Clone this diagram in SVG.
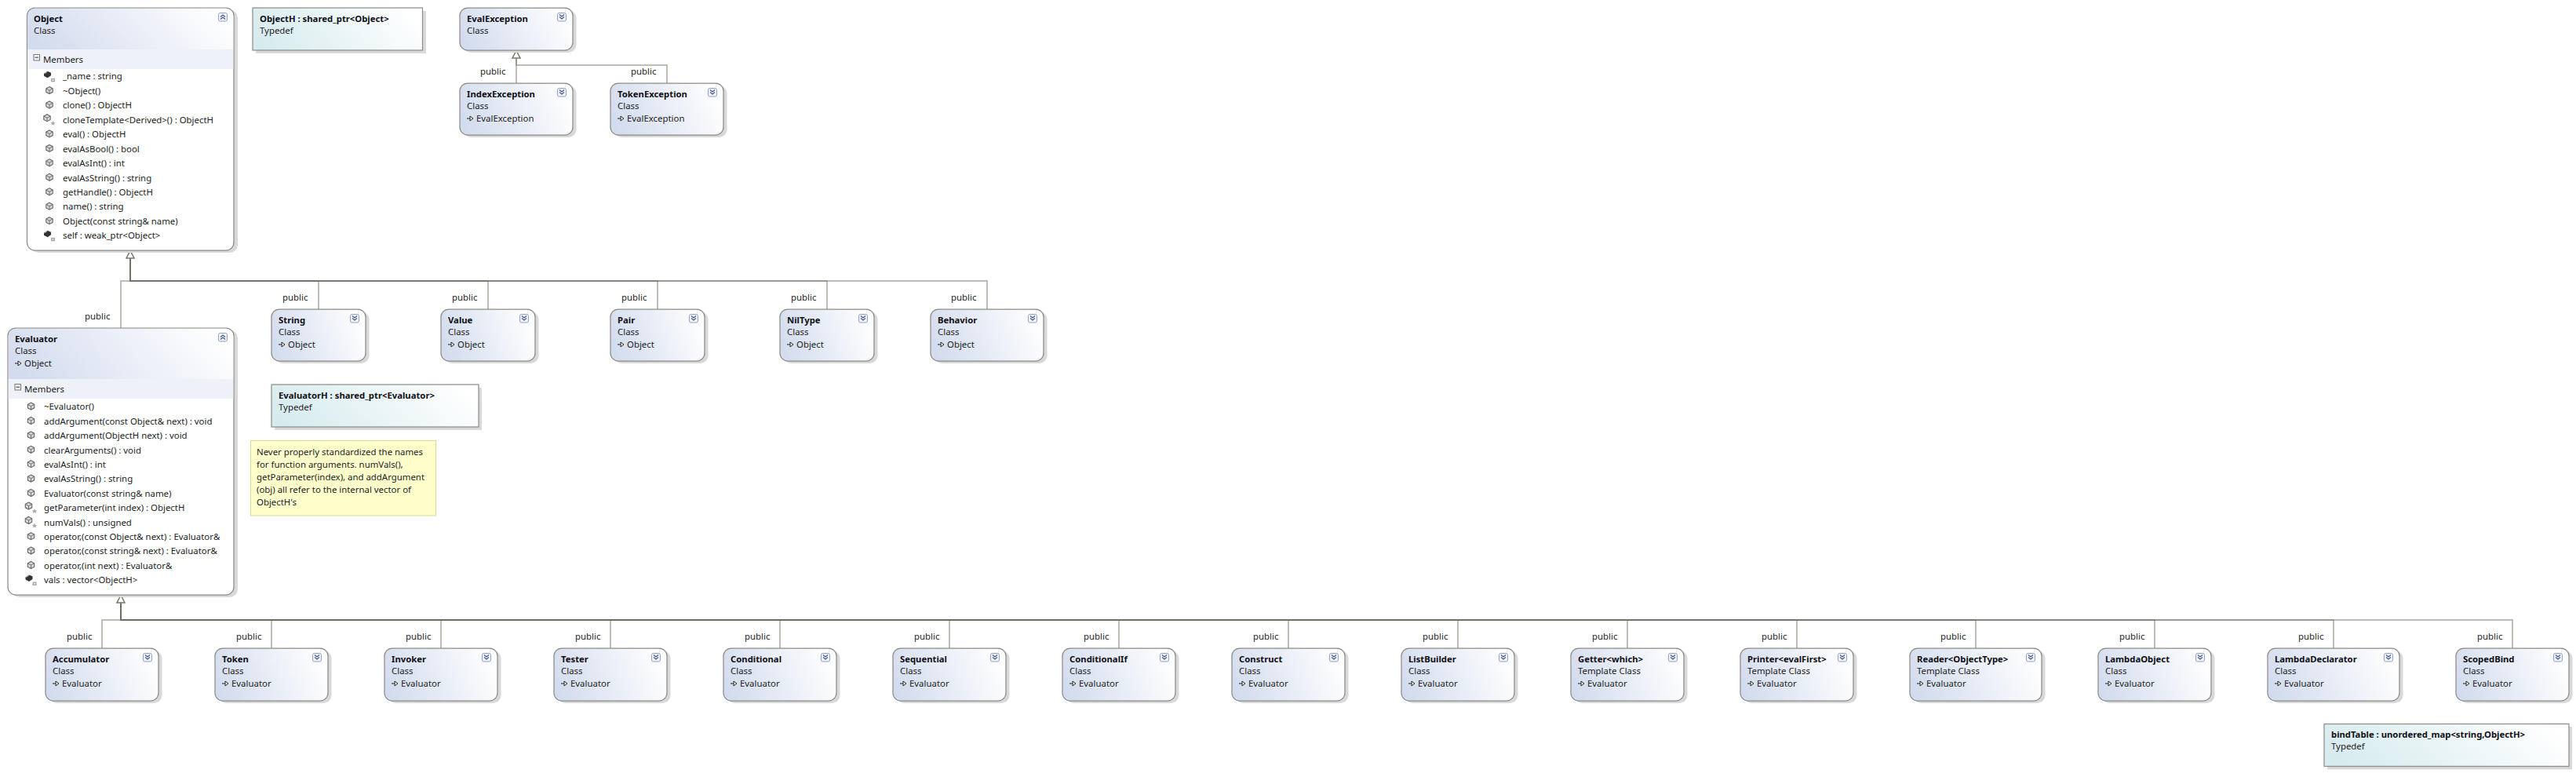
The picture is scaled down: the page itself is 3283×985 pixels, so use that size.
<svg xmlns="http://www.w3.org/2000/svg" width="3283" height="985" viewBox="0 0 3283 985">
<style>
text{font-family:"Noto Sans","Open Sans","Liberation Sans",sans-serif;font-size:11.4px;fill:#1c1c24}
.n{font-weight:700;font-size:11.3px;fill:#101018}
.sh{fill:#d9d9d9}
.b{fill:url(#cg);stroke:#8b8b85;stroke-width:1.25}
.o{fill:#fff;stroke:#8b8b85;stroke-width:1.25}
.td{fill:url(#tg);stroke:#8f8f8a;stroke-width:1.25}
.band{fill:#eef1f8}
.c{fill:none;stroke:#6f6f62;stroke-width:1.5;stroke-opacity:.6}
.a{fill:#fff;stroke:#77776c;stroke-width:1.5}
</style>
<defs>
<linearGradient id="cg" x1="0" y1=".6" x2="1" y2=".4"><stop offset="0" stop-color="#d3dcee"/><stop offset="1" stop-color="#fff"/></linearGradient>
<linearGradient id="tg" x1="0" y1=".6" x2="1" y2=".4"><stop offset="0" stop-color="#d6ebee"/><stop offset="1" stop-color="#fff"/></linearGradient>
<g id="btn"><rect x=".5" y=".5" width="11" height="10.5" rx="2" fill="#eef2fa" stroke="#8fa2c4"/></g>
<g id="dn"><use href="#btn"/><path d="M3 2.500 6 5 9 2.500M3 5.500 6 8 9 5.500" fill="none" stroke="#4a5a78" stroke-width="1.2"/></g>
<g id="up"><use href="#btn"/><path d="M3 5.500 6 3 9 5.500M3 8.500 6 6 9 8.500" fill="none" stroke="#4a5a78" stroke-width="1.2"/></g>
<g id="inh"><path d="M0 4H4" stroke="#222" stroke-width="1" fill="none"/><path d="M4 1 8 4 4 7Z" fill="#fff" stroke="#222" stroke-width="1"/></g>
<g id="hx"><path d="M0-4.500 4.200-2.200V2.200L0 4.500-4.200 2.200V-2.200Z" fill="#d8d8d8" stroke="#666" stroke-width="1.1"/><path d="M-4.200-2.200 0 0 4.200-2.200M0 0V4.500" fill="none" stroke="#666" stroke-width=".9"/></g>
<g id="m"><use href="#hx" y="-.7"/></g>
<g id="p"><use href="#hx" x="-3" y="-2.500"/><path d="M4.500 1 5.400 3.200 7.600 3.400 6 4.900 6.500 7 4.500 5.900 2.500 7 3 4.900 1.400 3.400 3.600 3.200Z" fill="#aaa"/></g>
<g id="f"><path d="M-7-3.500-2.500-6.500 2-4.500V-1L-2.500 2-7-.5Z" fill="#333"/><path d="M-6-3.700-2.700-5.800" stroke="#bbb" fill="none"/><rect x="2" y="2.500" width="5" height="4.500" fill="#aaa"/><rect x="3.500" y="4" width="2" height="1.500" fill="#eee"/></g>
<g id="mn"><rect x=".5" y=".5" width="7.500" height="7.500" fill="#f4f6fb" stroke="#777"/><path d="M2 4.200H6.500" stroke="#333"/></g>
</defs>
<rect width="3283" height="985" fill="#fff"/>

<g id="connectors">
<path class="c" d="M658 74V106"/>
<path class="c" d="M658 74V83H850V106"/>
<path class="c" d="M166 329V358H154V418"/>
<path class="c" d="M166 329V358H406V394"/>
<path class="c" d="M166 329V358H622V394"/>
<path class="c" d="M166 329V358H838V394"/>
<path class="c" d="M166 329V358H1054V394"/>
<path class="c" d="M166 329V358H1258V394"/>
<path class="c" d="M154 768V790H130V826"/>
<path class="c" d="M154 768V790H346V826"/>
<path class="c" d="M154 768V790H562V826"/>
<path class="c" d="M154 768V790H778V826"/>
<path class="c" d="M154 768V790H994V826"/>
<path class="c" d="M154 768V790H1210V826"/>
<path class="c" d="M154 768V790H1426V826"/>
<path class="c" d="M154 768V790H1642V826"/>
<path class="c" d="M154 768V790H1858V826"/>
<path class="c" d="M154 768V790H2074V826"/>
<path class="c" d="M154 768V790H2290V826"/>
<path class="c" d="M154 768V790H2518V826"/>
<path class="c" d="M154 768V790H2746V826"/>
<path class="c" d="M154 768V790H2974V826"/>
<path class="c" d="M154 768V790H3202V826"/>
<path class="a" d="M658 64.500 653 74H663Z"/>
<path class="a" d="M166 319.500 161 329H171Z"/>
<path class="a" d="M154 758.500 149 768H159Z"/>
<text x="612" y="95">public</text><text x="804" y="95">public</text>
<text x="108" y="407">public</text>
<text x="360" y="383">public</text><text x="576" y="383">public</text><text x="792" y="383">public</text><text x="1008" y="383">public</text><text x="1212" y="383">public</text>
<text x="85" y="815">public</text><text x="301" y="815">public</text><text x="517" y="815">public</text><text x="733" y="815">public</text><text x="949" y="815">public</text><text x="1165" y="815">public</text><text x="1381" y="815">public</text><text x="1597" y="815">public</text><text x="1813" y="815">public</text><text x="2029" y="815">public</text><text x="2245" y="815">public</text><text x="2473" y="815">public</text><text x="2701" y="815">public</text><text x="2929" y="815">public</text><text x="3157" y="815">public</text>
</g>

<g id="Object">
<rect class="sh" x="39" y="13" width="264" height="309" rx="10"/>
<rect class="o" x="34.500" y="10" width="263.500" height="309" rx="10"/>
<path d="M35.200 63V20A9.300 9.300 0 0 1 44.500 10.800H288A9.300 9.300 0 0 1 297.300 20V63Z" fill="url(#cg)"/>
<rect class="band" x="35.200" y="63" width="262.100" height="25"/>
<use href="#up" x="278" y="16"/>
<text class="n" x="43" y="28">Object</text><text x="43" y="43">Class</text>
<use href="#mn" x="42.500" y="69"/><text x="55" y="80">Members</text>
<use href="#f" x="63" y="97.300"/><text x="80" y="101.300">_name : string</text>
<use href="#m" x="63" y="115.800"/><text x="80" y="119.800">~Object()</text>
<use href="#m" x="63" y="134.200"/><text x="80" y="138.200">clone() : ObjectH</text>
<use href="#p" x="63" y="152.700"/><text x="80" y="156.700">cloneTemplate&lt;Derived&gt;() : ObjectH</text>
<use href="#m" x="63" y="171.100"/><text x="80" y="175.100">eval() : ObjectH</text>
<use href="#m" x="63" y="189.600"/><text x="80" y="193.600">evalAsBool() : bool</text>
<use href="#m" x="63" y="208"/><text x="80" y="212">evalAsInt() : int</text>
<use href="#m" x="63" y="226.500"/><text x="80" y="230.500">evalAsString() : string</text>
<use href="#m" x="63" y="245"/><text x="80" y="249">getHandle() : ObjectH</text>
<use href="#m" x="63" y="263.400"/><text x="80" y="267.400">name() : string</text>
<use href="#m" x="63" y="281.900"/><text x="80" y="285.900">Object(const string&amp; name)</text>
<use href="#f" x="63" y="300.300"/><text x="80" y="304.300">self : weak_ptr&lt;Object&gt;</text>
</g>

<g id="ObjectH"><rect class="sh" x="326" y="14" width="217" height="54"/><rect class="td" x="322" y="10" width="216.500" height="54"/><text class="n" x="331" y="28">ObjectH : shared_ptr&lt;Object&gt;</text><text x="331" y="43">Typedef</text></g>

<g id="EvalException"><rect class="sh" x="590.500" y="13" width="144" height="54" rx="10"/><rect class="b" x="586" y="10" width="144" height="54" rx="10"/><use href="#dn" x="710" y="16"/><text class="n" x="595" y="28">EvalException</text><text x="595" y="43">Class</text></g>
<g id="IndexException"><rect class="sh" x="590.500" y="109" width="144" height="66" rx="10"/><rect class="b" x="586" y="106" width="144" height="66" rx="10"/><use href="#dn" x="710" y="112"/><text class="n" x="595" y="124">IndexException</text><text x="595" y="139">Class</text><use href="#inh" x="595" y="147"/><text x="607" y="155">EvalException</text></g>
<g id="TokenException"><rect class="sh" x="782.500" y="109" width="144" height="66" rx="10"/><rect class="b" x="778" y="106" width="144" height="66" rx="10"/><use href="#dn" x="902" y="112"/><text class="n" x="787" y="124">TokenException</text><text x="787" y="139">Class</text><use href="#inh" x="787" y="147"/><text x="799" y="155">EvalException</text></g>

<g id="String"><rect class="sh" x="350.500" y="397" width="120" height="66" rx="10"/><rect class="b" x="346" y="394" width="120" height="66" rx="10"/><use href="#dn" x="446" y="400"/><text class="n" x="355" y="412">String</text><text x="355" y="427">Class</text><use href="#inh" x="355" y="435"/><text x="367" y="443">Object</text></g>
<g id="Value"><rect class="sh" x="566.500" y="397" width="120" height="66" rx="10"/><rect class="b" x="562" y="394" width="120" height="66" rx="10"/><use href="#dn" x="662" y="400"/><text class="n" x="571" y="412">Value</text><text x="571" y="427">Class</text><use href="#inh" x="571" y="435"/><text x="583" y="443">Object</text></g>
<g id="Pair"><rect class="sh" x="782.500" y="397" width="120" height="66" rx="10"/><rect class="b" x="778" y="394" width="120" height="66" rx="10"/><use href="#dn" x="878" y="400"/><text class="n" x="787" y="412">Pair</text><text x="787" y="427">Class</text><use href="#inh" x="787" y="435"/><text x="799" y="443">Object</text></g>
<g id="NilType"><rect class="sh" x="998.500" y="397" width="120" height="66" rx="10"/><rect class="b" x="994" y="394" width="120" height="66" rx="10"/><use href="#dn" x="1094" y="400"/><text class="n" x="1003" y="412">NilType</text><text x="1003" y="427">Class</text><use href="#inh" x="1003" y="435"/><text x="1015" y="443">Object</text></g>
<g id="Behavior"><rect class="sh" x="1190.500" y="397" width="144" height="66" rx="10"/><rect class="b" x="1186" y="394" width="144" height="66" rx="10"/><use href="#dn" x="1310" y="400"/><text class="n" x="1195" y="412">Behavior</text><text x="1195" y="427">Class</text><use href="#inh" x="1195" y="435"/><text x="1207" y="443">Object</text></g>

<g id="EvaluatorH"><rect class="sh" x="350" y="494" width="264" height="54"/><rect class="td" x="346" y="490" width="264" height="54"/><text class="n" x="355" y="508">EvaluatorH : shared_ptr&lt;Evaluator&gt;</text><text x="355" y="523">Typedef</text></g>

<g id="Note"><rect x="319.500" y="561.500" width="236" height="95.500" fill="#ffc" stroke="#d8d89a"/>
<text x="327" y="580">Never properly standardized the names</text><text x="327" y="596">for function arguments. numVals(),</text><text x="327" y="612">getParameter(index), and addArgument</text><text x="327" y="628">(obj) all refer to the internal vector of</text><text x="327" y="644">ObjectH's</text></g>

<g id="Evaluator">
<rect class="sh" x="15" y="421" width="288" height="340" rx="10"/>
<rect class="o" x="10" y="418" width="288" height="340" rx="10"/>
<path d="M10.700 483V428A9.300 9.300 0 0 1 20 418.800H288A9.300 9.300 0 0 1 297.300 428V483Z" fill="url(#cg)"/>
<rect class="band" x="10.700" y="483" width="286.600" height="25"/>
<use href="#up" x="278" y="424"/>
<text class="n" x="19" y="436">Evaluator</text><text x="19" y="451">Class</text><use href="#inh" x="19" y="459"/><text x="31" y="467">Object</text>
<use href="#mn" x="18.500" y="489"/><text x="31" y="500">Members</text>
<use href="#m" x="39.500" y="518.300"/><text x="56" y="522.300">~Evaluator()</text>
<use href="#m" x="39.500" y="536.700"/><text x="56" y="540.700">addArgument(const Object&amp; next) : void</text>
<use href="#m" x="39.500" y="555.100"/><text x="56" y="559.100">addArgument(ObjectH next) : void</text>
<use href="#m" x="39.500" y="573.500"/><text x="56" y="577.500">clearArguments() : void</text>
<use href="#m" x="39.500" y="591.900"/><text x="56" y="595.900">evalAsInt() : int</text>
<use href="#m" x="39.500" y="610.300"/><text x="56" y="614.300">evalAsString() : string</text>
<use href="#m" x="39.500" y="628.700"/><text x="56" y="632.700">Evaluator(const string&amp; name)</text>
<use href="#p" x="39.500" y="647.100"/><text x="56" y="651.100">getParameter(int index) : ObjectH</text>
<use href="#p" x="39.500" y="665.500"/><text x="56" y="669.500">numVals() : unsigned</text>
<use href="#m" x="39.500" y="683.900"/><text x="56" y="687.900">operator,(const Object&amp; next) : Evaluator&amp;</text>
<use href="#m" x="39.500" y="702.300"/><text x="56" y="706.300">operator,(const string&amp; next) : Evaluator&amp;</text>
<use href="#m" x="39.500" y="720.700"/><text x="56" y="724.700">operator,(int next) : Evaluator&amp;</text>
<use href="#f" x="39.500" y="739.100"/><text x="56" y="743.100">vals : vector&lt;ObjectH&gt;</text>
</g>

<g id="Accumulator"><rect class="sh" x="62.500" y="829" width="144" height="67" rx="10"/><rect class="b" x="58" y="826" width="144" height="67" rx="10"/><use href="#dn" x="182" y="832"/><text class="n" x="67" y="844">Accumulator</text><text x="67" y="859">Class</text><use href="#inh" x="67" y="867"/><text x="79" y="875">Evaluator</text></g>
<g id="Token"><rect class="sh" x="278.500" y="829" width="144" height="67" rx="10"/><rect class="b" x="274" y="826" width="144" height="67" rx="10"/><use href="#dn" x="398" y="832"/><text class="n" x="283" y="844">Token</text><text x="283" y="859">Class</text><use href="#inh" x="283" y="867"/><text x="295" y="875">Evaluator</text></g>
<g id="Invoker"><rect class="sh" x="494.500" y="829" width="144" height="67" rx="10"/><rect class="b" x="490" y="826" width="144" height="67" rx="10"/><use href="#dn" x="614" y="832"/><text class="n" x="499" y="844">Invoker</text><text x="499" y="859">Class</text><use href="#inh" x="499" y="867"/><text x="511" y="875">Evaluator</text></g>
<g id="Tester"><rect class="sh" x="710.500" y="829" width="144" height="67" rx="10"/><rect class="b" x="706" y="826" width="144" height="67" rx="10"/><use href="#dn" x="830" y="832"/><text class="n" x="715" y="844">Tester</text><text x="715" y="859">Class</text><use href="#inh" x="715" y="867"/><text x="727" y="875">Evaluator</text></g>
<g id="Conditional"><rect class="sh" x="926.500" y="829" width="144" height="67" rx="10"/><rect class="b" x="922" y="826" width="144" height="67" rx="10"/><use href="#dn" x="1046" y="832"/><text class="n" x="931" y="844">Conditional</text><text x="931" y="859">Class</text><use href="#inh" x="931" y="867"/><text x="943" y="875">Evaluator</text></g>
<g id="Sequential"><rect class="sh" x="1142.500" y="829" width="144" height="67" rx="10"/><rect class="b" x="1138" y="826" width="144" height="67" rx="10"/><use href="#dn" x="1262" y="832"/><text class="n" x="1147" y="844">Sequential</text><text x="1147" y="859">Class</text><use href="#inh" x="1147" y="867"/><text x="1159" y="875">Evaluator</text></g>
<g id="ConditionalIf"><rect class="sh" x="1358.500" y="829" width="144" height="67" rx="10"/><rect class="b" x="1354" y="826" width="144" height="67" rx="10"/><use href="#dn" x="1478" y="832"/><text class="n" x="1363" y="844">ConditionalIf</text><text x="1363" y="859">Class</text><use href="#inh" x="1363" y="867"/><text x="1375" y="875">Evaluator</text></g>
<g id="Construct"><rect class="sh" x="1574.500" y="829" width="144" height="67" rx="10"/><rect class="b" x="1570" y="826" width="144" height="67" rx="10"/><use href="#dn" x="1694" y="832"/><text class="n" x="1579" y="844">Construct</text><text x="1579" y="859">Class</text><use href="#inh" x="1579" y="867"/><text x="1591" y="875">Evaluator</text></g>
<g id="ListBuilder"><rect class="sh" x="1790.500" y="829" width="144" height="67" rx="10"/><rect class="b" x="1786" y="826" width="144" height="67" rx="10"/><use href="#dn" x="1910" y="832"/><text class="n" x="1795" y="844">ListBuilder</text><text x="1795" y="859">Class</text><use href="#inh" x="1795" y="867"/><text x="1807" y="875">Evaluator</text></g>
<g id="Getter"><rect class="sh" x="2006.500" y="829" width="144" height="67" rx="10"/><rect class="b" x="2002" y="826" width="144" height="67" rx="10"/><use href="#dn" x="2126" y="832"/><text class="n" x="2011" y="844">Getter&lt;which&gt;</text><text x="2011" y="859">Template Class</text><use href="#inh" x="2011" y="867"/><text x="2023" y="875">Evaluator</text></g>
<g id="Printer"><rect class="sh" x="2222.500" y="829" width="144" height="67" rx="10"/><rect class="b" x="2218" y="826" width="144" height="67" rx="10"/><use href="#dn" x="2342" y="832"/><text class="n" x="2227" y="844">Printer&lt;evalFirst&gt;</text><text x="2227" y="859">Template Class</text><use href="#inh" x="2227" y="867"/><text x="2239" y="875">Evaluator</text></g>
<g id="Reader"><rect class="sh" x="2438.500" y="829" width="168" height="67" rx="10"/><rect class="b" x="2434" y="826" width="168" height="67" rx="10"/><use href="#dn" x="2582" y="832"/><text class="n" x="2443" y="844">Reader&lt;ObjectType&gt;</text><text x="2443" y="859">Template Class</text><use href="#inh" x="2443" y="867"/><text x="2455" y="875">Evaluator</text></g>
<g id="LambdaObject"><rect class="sh" x="2678.500" y="829" width="144" height="67" rx="10"/><rect class="b" x="2674" y="826" width="144" height="67" rx="10"/><use href="#dn" x="2798" y="832"/><text class="n" x="2683" y="844">LambdaObject</text><text x="2683" y="859">Class</text><use href="#inh" x="2683" y="867"/><text x="2695" y="875">Evaluator</text></g>
<g id="LambdaDeclarator"><rect class="sh" x="2894.500" y="829" width="168" height="67" rx="10"/><rect class="b" x="2890" y="826" width="168" height="67" rx="10"/><use href="#dn" x="3038" y="832"/><text class="n" x="2899" y="844">LambdaDeclarator</text><text x="2899" y="859">Class</text><use href="#inh" x="2899" y="867"/><text x="2911" y="875">Evaluator</text></g>
<g id="ScopedBind"><rect class="sh" x="3134.500" y="829" width="144" height="67" rx="10"/><rect class="b" x="3130" y="826" width="144" height="67" rx="10"/><use href="#dn" x="3254" y="832"/><text class="n" x="3139" y="844">ScopedBind</text><text x="3139" y="859">Class</text><use href="#inh" x="3139" y="867"/><text x="3151" y="875">Evaluator</text></g>

<g id="bindTable"><rect class="sh" x="2966" y="926" width="312" height="54.500"/><rect class="td" x="2962" y="922.500" width="312" height="54"/><text class="n" x="2971" y="940">bindTable : unordered_map&lt;string,ObjectH&gt;</text><text x="2971" y="955">Typedef</text></g>
</svg>
